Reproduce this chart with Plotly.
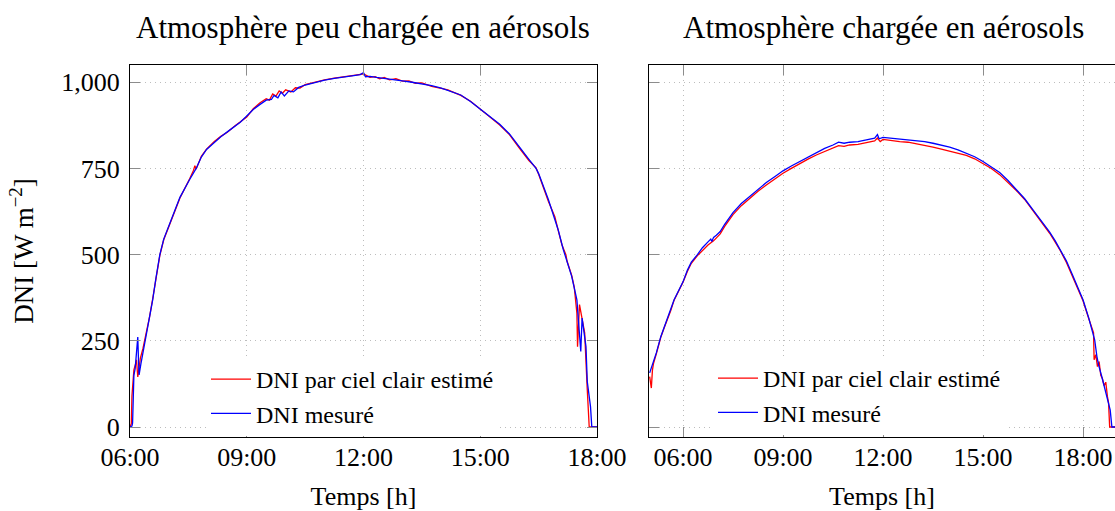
import plotly.graph_objects as go

# ---------------- data ----------------
# Left panel: "Atmosphère peu chargée en aérosols"
left_est_time = ["06:00","06:02","06:03","06:05","06:06","06:09","06:10","06:12","06:14","06:16","06:20","06:25","06:30","06:35","06:40","06:46","06:52","07:02","07:10","07:17","07:25","07:32","07:38","07:40","07:42","07:50","07:58","08:10","08:20","08:30","08:42","08:50","09:00","09:10","09:20","09:30","09:35","09:40","09:45","09:50","09:55","10:00","10:08","10:15","10:22","10:30","10:45","11:00","11:15","11:30","11:45","12:00","12:05","12:10","12:18","12:25","12:32","12:40","12:50","13:00","13:10","13:20","13:30","13:45","14:00","14:10","14:20","14:30","14:45","15:00","15:15","15:30","15:45","16:00","16:15","16:26","16:30","16:45","16:55","17:00","17:06","17:12","17:14","17:21","17:25","17:29","17:30","17:33","17:37","17:41","17:45","17:47","17:48","18:00"]
left_est = [0,10,90,128,166,186,195,145,170,200,228,272,318,372,430,498,543,594,630,664,692,720,745,758,748,785,806,828,843,855,874,886,899,923,940,952,948,966,960,975,968,978,972,984,983,993,1001,1007,1012,1015,1020,1024,1018,1014,1016,1010,1014,1007,1010,1003,1004,997,998,988,982,978,970,962,945,921,899,876,848,810,773,752,733,655,610,572,528,500,480,440,405,330,233,355,315,273,108,12,0,0]

left_meas_time = ["06:00","06:03","06:04","06:06","06:08","06:10","06:12","06:13","06:14","06:17","06:20","06:25","06:30","06:35","06:40","06:46","06:52","07:02","07:10","07:17","07:25","07:32","07:42","07:50","07:58","08:10","08:20","08:30","08:42","08:50","09:00","09:10","09:20","09:30","09:38","09:42","09:48","09:53","09:58","10:05","10:12","10:20","10:30","10:45","11:00","11:15","11:30","11:45","11:55","12:00","12:03","12:10","12:20","12:30","12:45","13:00","13:15","13:30","13:45","14:00","14:15","14:30","14:45","15:00","15:15","15:30","15:45","16:00","16:15","16:26","16:30","16:45","17:00","17:08","17:21","17:29","17:32","17:35","17:37","17:40","17:43","17:45","17:50","17:52","18:00"]
left_meas = [0,3,12,150,170,215,261,200,151,185,215,268,320,369,432,500,545,596,632,666,695,718,750,783,805,826,842,856,872,884,902,921,935,948,950,962,955,972,960,975,972,985,992,1000,1006,1011,1016,1019,1022,1028,1016,1017,1014,1011,1008,1004,1000,996,990,983,974,963,944,922,900,878,850,812,776,750,735,660,573,515,437,369,300,219,316,280,233,132,59,0,0]

# Right panel: "Atmosphère chargée en aérosols"
right_est_time = ["05:00","05:01","05:03","05:05","05:07","05:12","05:20","05:26","05:32","05:38","05:44","05:52","06:00","06:08","06:15","06:26","06:35","06:45","06:55","07:00","07:07","07:15","07:30","07:45","08:00","08:15","08:30","08:45","09:00","09:15","09:30","09:45","10:00","10:15","10:30","10:40","10:50","11:00","11:15","11:30","11:45","11:50","11:55","12:00","12:15","12:30","12:45","13:00","13:15","13:30","13:45","14:00","14:15","14:30","14:45","15:00","15:15","15:30","15:45","16:00","16:15","16:30","16:45","17:00","17:10","17:19","17:30","17:40","17:50","18:00","18:10","18:15","18:19","18:20","18:23","18:26","18:29","18:32","18:35","18:38","18:41","18:44","18:46","18:48","19:00"]
right_est = [146,128,113,165,185,212,260,287,310,338,368,393,420,452,475,497,512,528,540,548,560,582,616,642,664,684,702,720,736,750,764,777,789,800,810,816,814,818,820,826,830,838,828,834,830,828,826,822,818,812,806,800,795,788,778,764,750,732,710,686,660,628,596,562,536,512,478,442,404,366,316,290,273,195,210,175,190,150,140,120,130,88,70,0,0]

right_meas_time = ["05:00","05:04","05:07","05:12","05:20","05:26","05:32","05:38","05:44","05:52","06:00","06:08","06:15","06:26","06:35","06:45","06:50","06:52","06:55","07:00","07:07","07:15","07:30","07:45","08:00","08:15","08:30","08:45","09:00","09:15","09:30","09:45","10:00","10:15","10:30","10:40","10:50","11:00","11:15","11:30","11:45","11:50","11:53","12:00","12:15","12:30","12:45","13:00","13:15","13:30","13:45","14:00","14:15","14:30","14:45","15:00","15:15","15:30","15:45","16:00","16:15","16:30","16:45","17:00","17:10","17:19","17:30","17:40","17:50","18:00","18:10","18:19","18:21","18:25","18:28","18:34","18:40","18:45","18:49","18:52","19:00"]
right_meas = [157,175,190,215,262,288,311,340,369,395,421,455,478,500,520,537,545,538,550,556,567,588,622,648,669,690,709,726,743,757,770,784,797,808,818,826,823,826,828,833,838,848,836,840,838,836,834,832,828,823,818,812,804,795,784,770,755,738,715,690,662,630,598,565,540,515,482,445,408,369,318,260,253,205,180,145,108,80,49,0,0]

tick_hours = [6, 9, 12, 15, 18]
tick_text = ["06:00", "09:00", "12:00", "15:00", "18:00"]
y_ticks = [0, 250, 500, 750, 1000]

series_names = ["DNI par ciel clair estimé", "DNI mesuré"]
panel_titles = ["Atmosphère peu chargée en aérosols", "Atmosphère chargée en aérosols"]


def to_hours(labels):
    out = []
    for s in labels:
        h, m = s.split(":")
        out.append(int(h) + int(m) / 60.0)
    return out


FONT = "Liberation Serif, Times New Roman, serif"
W, H = 1115, 511
RED, BLUE = "#ff0000", "#0000ff"


def px_x(p):
    return p / W


def px_y(p):
    return 1 - p / H


fig = go.Figure()
fig.add_trace(go.Scatter(x=to_hours(left_est_time), y=left_est, mode="lines",
                         line=dict(color=RED, width=1.3), name=series_names[0],
                         xaxis="x", yaxis="y", legend="legend"))
fig.add_trace(go.Scatter(x=to_hours(left_meas_time), y=left_meas, mode="lines",
                         line=dict(color=BLUE, width=1.3), name=series_names[1],
                         xaxis="x", yaxis="y", legend="legend"))
fig.add_trace(go.Scatter(x=to_hours(right_est_time), y=right_est, mode="lines",
                         line=dict(color=RED, width=1.3), name=series_names[0],
                         xaxis="x2", yaxis="y2", legend="legend2"))
fig.add_trace(go.Scatter(x=to_hours(right_meas_time), y=right_meas, mode="lines",
                         line=dict(color=BLUE, width=1.3), name=series_names[1],
                         xaxis="x2", yaxis="y2", legend="legend2"))

ydom = [px_y(437), px_y(65)]
yrange = [-29, 1050]
GRID = "#bdbdbd"

common_x = dict(tickvals=tick_hours, ticktext=tick_text, ticks="inside", ticklen=10,
                tickwidth=1.2, tickcolor="#8c8c8c", showline=True, linecolor="black",
                linewidth=1.3, mirror="ticks", showgrid=True, gridcolor=GRID,
                griddash="1px,4px", gridwidth=1, zeroline=False,
                tickfont=dict(family=FONT, size=26, color="black"),
                ticklabelstandoff=-3, automargin=False,
                title=dict(text="Temps [h]", font=dict(family=FONT, size=26, color="black"),
                           standoff=22))
common_y = dict(tickvals=y_ticks, ticks="inside", ticklen=10, tickwidth=1.2,
                tickcolor="#8c8c8c", showline=True, linecolor="black", linewidth=1.3,
                showgrid=True, gridcolor=GRID, griddash="1px,4px", gridwidth=1,
                zeroline=False, range=yrange, domain=ydom, automargin=False,
                tickformat=",d", tickfont=dict(family=FONT, size=26, color="black"))

fig.update_layout(
    width=W, height=H,
    margin=dict(l=0, r=0, t=0, b=0),
    paper_bgcolor="white", plot_bgcolor="white",
    font=dict(family=FONT, size=26, color="black"),
    xaxis=dict(domain=[px_x(130), px_x(597)], range=[6, 18], anchor="y", **common_x),
    yaxis=dict(anchor="x", mirror="ticks", ticklabelstandoff=4,
               title=dict(text="DNI [W m<sup>−2</sup>]",
                          font=dict(family=FONT, size=27, color="black"), standoff=19),
               **common_y),
    xaxis2=dict(domain=[px_x(649), 1.0], range=[4.98, 18.96], anchor="y2", **common_x),
    yaxis2=dict(anchor="x2", mirror=False, showticklabels=False, **common_y),
    legend=dict(x=px_x(206), y=px_y(357), xanchor="left", yanchor="top",
                bgcolor="white", borderwidth=0, itemwidth=40,
                font=dict(family=FONT, size=24, color="black")),
    legend2=dict(x=px_x(713), y=px_y(356), xanchor="left", yanchor="top",
                 bgcolor="white", borderwidth=0, itemwidth=40,
                 font=dict(family=FONT, size=24, color="black")),
    showlegend=True,
)

for title, cx in zip(panel_titles, [363, 883]):
    fig.add_annotation(text=title, x=px_x(cx), y=px_y(27), xref="paper", yref="paper",
                       xanchor="center", yanchor="middle", showarrow=False,
                       font=dict(family=FONT, size=31, color="black"))

# place the figure at the page's top-left corner (no default body margin)
fig.write_html("out.html",
               config={"displayModeBar": False},
               post_script="document.body.style.margin='0';"
                           "document.body.style.overflow='hidden';")
